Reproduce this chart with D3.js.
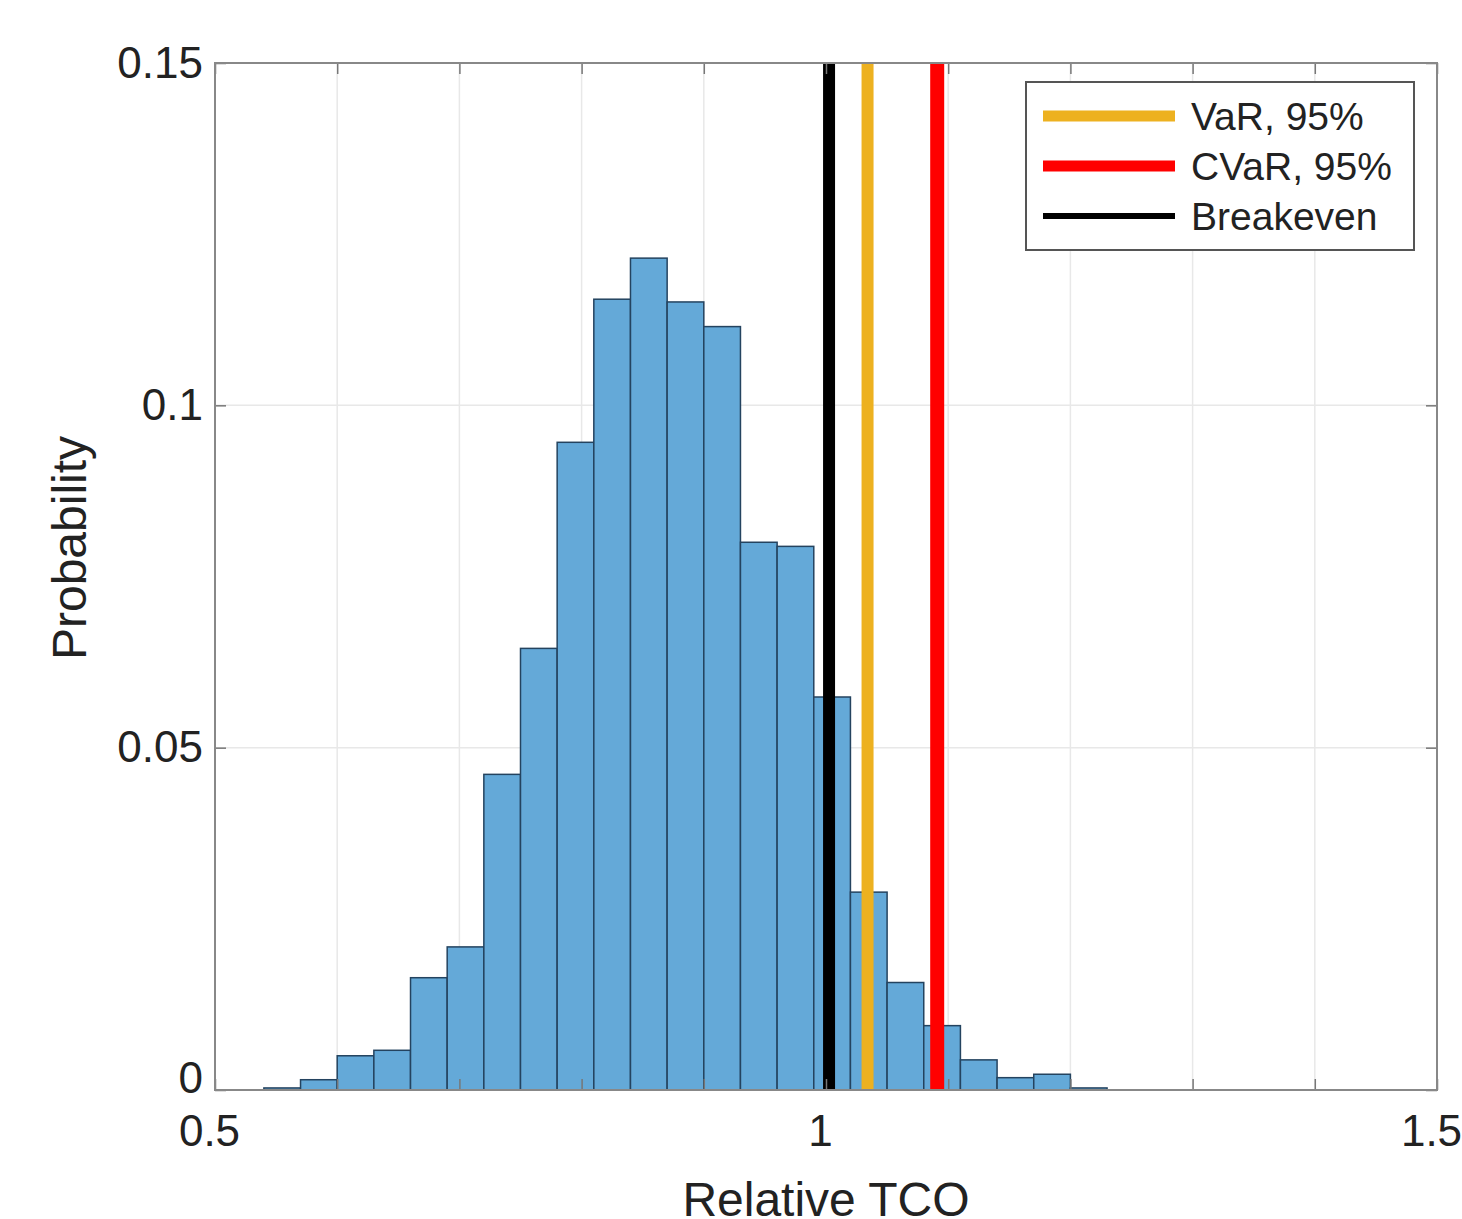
<!DOCTYPE html>
<html>
<head>
<meta charset="utf-8">
<script src="https://cdn.jsdelivr.net/npm/d3@7"></script>
<style>
  body { margin: 0; background: #fff; }
  svg text { font-family: "Liberation Sans", Arial, sans-serif; fill: #222; }
</style>
</head>
<body>
<svg id="chart" width="1462" height="1219"></svg>
<script>
// histogram bins (left edges, width 0.03) and probabilities
var binEdges = [0.54, 0.57, 0.60, 0.63, 0.66, 0.69, 0.72, 0.75, 0.78, 0.81, 0.84, 0.87,
                0.90, 0.93, 0.96, 0.99, 1.02, 1.05, 1.08, 1.11, 1.14, 1.17, 1.20, 1.23];
var probs = [0.0003, 0.0015, 0.0050, 0.0058, 0.0164, 0.0209, 0.0461, 0.0645, 0.0946, 0.1155,
             0.1215, 0.1151, 0.1115, 0.0800, 0.0794, 0.0574, 0.0289, 0.0157, 0.0094, 0.0044,
             0.0018, 0.0023, 0.0003];

// reference lines
var refNames = ["VaR, 95%", "CVaR, 95%", "Breakeven"];
var refValues = [1.034, 1.091, 1.0025];
var refColors = ["#EDB120", "#FF0000", "#000000"];

var xTicks = [0.5, 0.6, 0.7, 0.8, 0.9, 1.0, 1.1, 1.2, 1.3, 1.4, 1.5];
var xLabels = [0.5, 1, 1.5];
var yTicks = [0, 0.05, 0.1, 0.15];

var margin = { top: 63, right: 25, bottom: 130, left: 215 };
var width = 1462 - margin.left - margin.right,
    height = 1219 - margin.top - margin.bottom + 1;

var svg = d3.select("#chart");
var g = svg.append("g").attr("transform", "translate(" + margin.left + "," + margin.top + ")");

var x = d3.scaleLinear().domain([0.5, 1.5]).range([0, width]);
var y = d3.scaleLinear().domain([0, 0.15]).range([height, 0]);

// grid
g.append("g").selectAll("line").data(xTicks.slice(1, -1)).enter().append("line")
  .attr("x1", function(d) { return x(d); }).attr("x2", function(d) { return x(d); })
  .attr("y1", 0).attr("y2", height)
  .attr("stroke", "#e8e8e8").attr("stroke-width", 1.5);
g.append("g").selectAll("line").data(yTicks.slice(1, -1)).enter().append("line")
  .attr("y1", function(d) { return y(d); }).attr("y2", function(d) { return y(d); })
  .attr("x1", 0).attr("x2", width)
  .attr("stroke", "#e8e8e8").attr("stroke-width", 1.5);

// bars
var bins = probs.map(function(p, i) { return { x0: binEdges[i], x1: binEdges[i + 1], p: p }; });
g.append("g").selectAll("rect").data(bins).enter().append("rect")
  .attr("x", function(d) { return x(d.x0); })
  .attr("width", function(d) { return x(d.x1) - x(d.x0); })
  .attr("y", function(d) { return y(d.p); })
  .attr("height", function(d) { return y(0) - y(d.p); })
  .attr("fill", "#64a9d8")
  .attr("stroke", "#24435f")
  .attr("stroke-width", 1.5);

// vertical reference lines
var lineWidths = [12, 14, 12];
g.append("g").selectAll("line").data(refValues).enter().append("line")
  .attr("x1", function(d) { return x(d); }).attr("x2", function(d) { return x(d); })
  .attr("y1", 0).attr("y2", height)
  .attr("stroke", function(d, i) { return refColors[i]; })
  .attr("stroke-width", function(d, i) { return lineWidths[i]; });

// axes (ticks inside, mirrored)
function styleAxis(sel) {
  sel.select(".domain").remove();
  sel.selectAll(".tick line").attr("stroke", "#777").attr("stroke-width", 1.5);
  sel.selectAll("text").style("font-size", "44px").attr("fill", "#222");
}
var fmtX = function(d) { return xLabels.indexOf(+d.toFixed(2)) >= 0 ? d3.format("")(+d.toFixed(2)) : ""; };

g.append("g").attr("transform", "translate(0," + height + ")")
  .call(d3.axisBottom(x).tickValues(xTicks).tickSize(-11).tickPadding(25).tickFormat(fmtX))
  .call(styleAxis)
  .selectAll("text").attr("dy", "0.71em").attr("dx", -6);
g.append("g")
  .call(d3.axisTop(x).tickValues(xTicks).tickSize(-11).tickFormat(""))
  .call(styleAxis);
g.append("g")
  .call(d3.axisLeft(y).tickValues(yTicks).tickSize(-11).tickPadding(12).tickFormat(d3.format("")))
  .call(styleAxis)
  .selectAll("text").attr("dy", function(d) { return d === 0 ? "0.05em" : "0.32em"; });
g.append("g").attr("transform", "translate(" + width + ",0)")
  .call(d3.axisRight(y).tickValues(yTicks).tickSize(-11).tickFormat(""))
  .call(styleAxis);

// box
g.append("rect").attr("width", width).attr("height", height)
  .attr("fill", "none").attr("stroke", "#888").attr("stroke-width", 2);

// axis labels
svg.append("text").attr("x", margin.left + x(1.0)).attr("y", 1216)
  .attr("text-anchor", "middle").style("font-size", "48px").text("Relative TCO");
svg.append("text").attr("transform", "translate(86,548) rotate(-90)")
  .attr("text-anchor", "middle").style("font-size", "48px").text("Probability");

// legend
var legend = svg.append("g").attr("transform", "translate(1026,82)");
legend.append("rect").attr("width", 388).attr("height", 168)
  .attr("fill", "#fff").attr("stroke", "#555").attr("stroke-width", 2);
var legendWidths = [11, 11, 6];
var rows = legend.selectAll("g.row").data(refNames).enter().append("g")
  .attr("class", "row")
  .attr("transform", function(d, i) { return "translate(0," + (34 + i * 50) + ")"; });
rows.append("line").attr("x1", 17).attr("x2", 149)
  .attr("stroke", function(d, i) { return refColors[i]; })
  .attr("stroke-width", function(d, i) { return legendWidths[i]; });
rows.append("text").attr("x", 165).attr("dy", "0.36em")
  .style("font-size", "39px").text(function(d) { return d; });
</script>
</body>
</html>
